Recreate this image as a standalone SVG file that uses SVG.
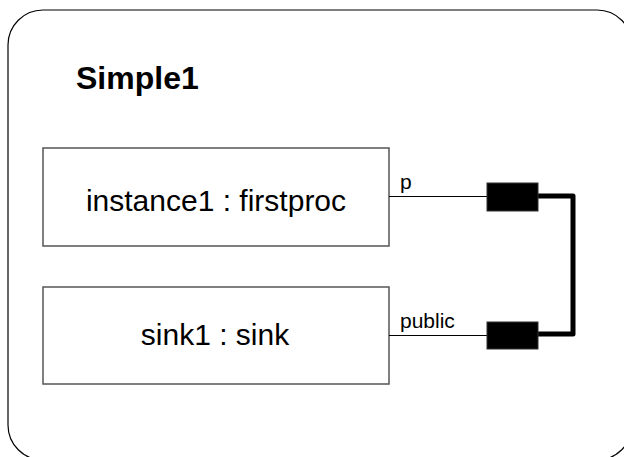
<svg xmlns="http://www.w3.org/2000/svg" width="624" height="457" viewBox="0 0 624 457">
  <style>
    .frame { fill: #fff; stroke: #000; stroke-width: 1.2; }
    .part { fill: #fff; stroke: #555; stroke-width: 1.5; }
    .port { fill: #000; stroke: #333; stroke-width: 1; }
    .wire { fill: none; stroke: #000; stroke-width: 1; }
    .bus { fill: none; stroke: #000; stroke-width: 5; stroke-linejoin: round; }
    text { font-family: "Liberation Sans", Arial, sans-serif; fill: #000; }
    .title { font-size: 32px; font-weight: bold; }
    .name { font-size: 30px; text-anchor: middle; }
    .label { font-size: 21px; }
  </style>
  <rect class="frame" x="8" y="10" width="624" height="450" rx="35" ry="35"/>
  <text class="title" x="76" y="89">Simple1</text>

  <g id="instance1">
    <rect class="part" x="43" y="148" width="346" height="98"/>
    <text class="name" x="216" y="211">instance1 : firstproc</text>
  </g>
  <g id="sink1">
    <rect class="part" x="43" y="287" width="346" height="97"/>
    <text class="name" x="215" y="345">sink1 : sink</text>
  </g>

  <g id="connectors">
    <line class="wire" x1="389" y1="196.5" x2="487" y2="196.5"/>
    <text class="label" x="400" y="189">p</text>
    <line class="wire" x1="389" y1="335.5" x2="487" y2="335.5"/>
    <text class="label" x="400" y="328">public</text>
    <polyline class="bus" points="538,196 573,196 573,334 538,334"/>
    <rect class="port" x="487" y="183" width="51" height="28"/>
    <rect class="port" x="487" y="322" width="51" height="27"/>
  </g>
</svg>
